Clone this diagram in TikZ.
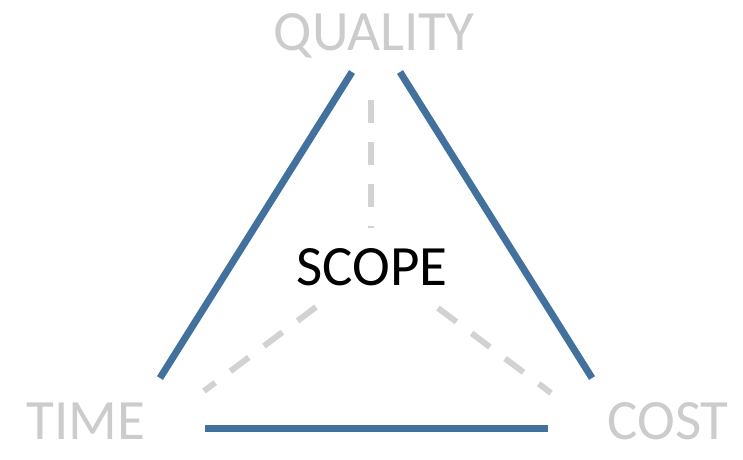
\documentclass[tikz,border=0pt]{standalone}
\usepackage{fontspec}
\setmainfont{Carlito}
\usetikzlibrary{positioning}
\definecolor{sideblue}{RGB}{65,113,156}
\definecolor{lightgrey}{RGB}{204,204,204}
\definecolor{dashgrey}{RGB}{210,210,210}
\tikzstyle{side} = [line width=7pt, draw=sideblue]
\tikzstyle{link} = [line width=6pt, draw=dashgrey, dash pattern=on 23pt off 19pt]
\tikzstyle{corner} = [anchor=base, inner sep=0pt, text=lightgrey, font=\fontsize{57}{60}\selectfont]
\tikzstyle{centre} = [anchor=base, inner sep=0pt, text=black, font=\fontsize{57}{60}\selectfont]

\begin{document}
\begin{tikzpicture}[x=1pt, y=-1pt]
		\useasboundingbox (0,0) rectangle (743,459);
		\node(quality) [corner] at (374,50) {QUALITY};
		\node(time) [corner] at (86,439) {TIME};
		\node(cost) [corner] at (668,439) {COST};
		\node(scope) [centre] at (372,285) {SCOPE};
		% ends of the three sides
		\coordinate (ql) at (352,72);
		\coordinate (qr) at (400,72);
		\coordinate (tl) at (160,378);
		\coordinate (tb) at (205,428);
		\coordinate (cr) at (592,378);
		\coordinate (cb) at (548,428);
		\draw [side] (ql) -- (tl);
		\draw [side] (qr) -- (cr);
		\draw [side] (tb) -- (cb);
		% dashed links to the corners
		\coordinate (sq) at (371,228);
		\coordinate (st) at (316,307);
		\coordinate (sc) at (438,308);
		\draw [link] (371,100) -- (sq);
		\draw [link] (st) -- (204,391);
		\draw [link] (sc) -- (551,393);
	\end{tikzpicture}
\end{document}
